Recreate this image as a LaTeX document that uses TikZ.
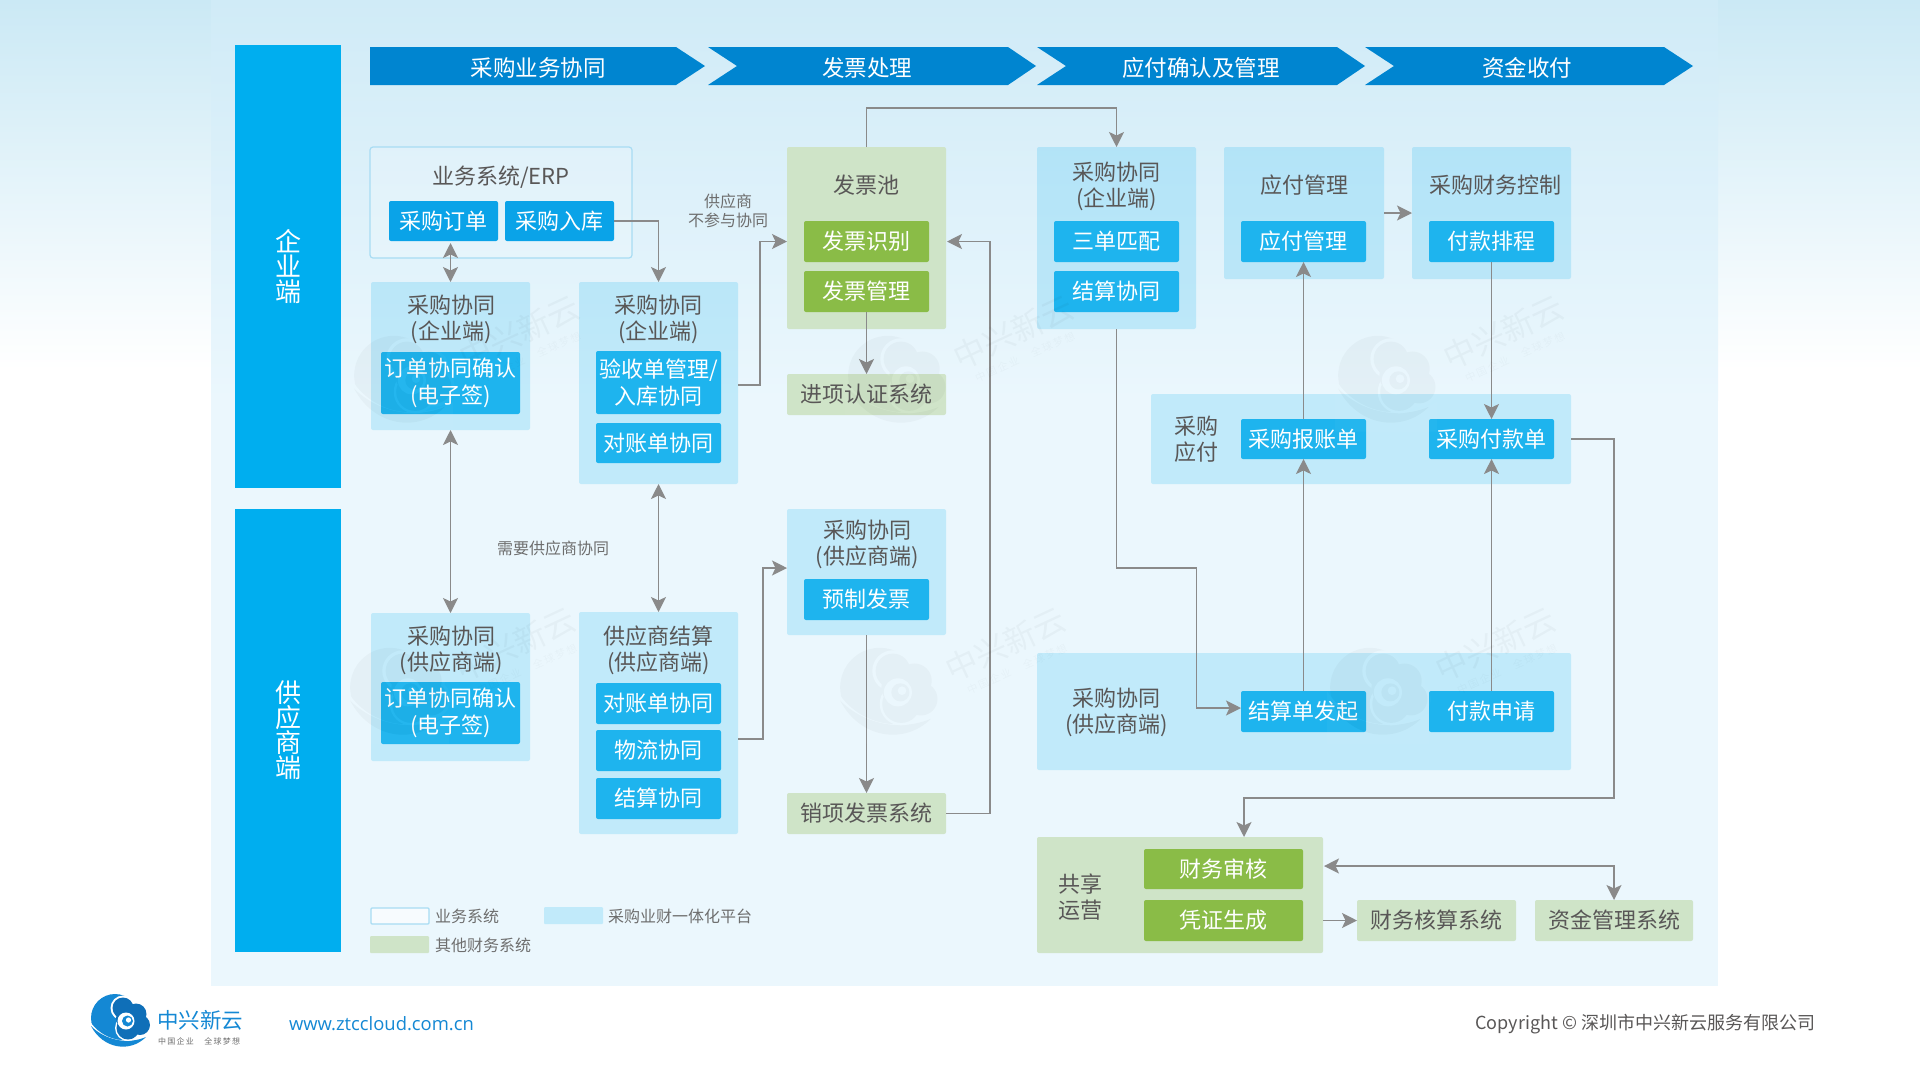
\documentclass[tikz,border=0pt]{standalone}
\usepackage{fontspec}
\usetikzlibrary{arrows.meta,calc}
\setmainfont{Noto Sans CJK SC}
\newfontfamily\spacedfont[LetterSpace=16]{Noto Sans CJK SC}
\newfontfamily\urlfont{Open Sans}
\definecolor{txt}{HTML}{595757}
\definecolor{note}{HTML}{6E6E6E}
\definecolor{band}{HTML}{0085D0}
\definecolor{side}{HTML}{00AEEF}
\definecolor{blk}{HTML}{1EB4EE}
\definecolor{blkd}{HTML}{0AA3E8}
\definecolor{grn}{HTML}{8ABC47}
\definecolor{grnp}{HTML}{CFE4C8}
\definecolor{connc}{HTML}{8A8A8A}
\definecolor{lgd}{HTML}{A8DCF3}
\definecolor{logoa}{HTML}{1488D4}
\definecolor{logob}{HTML}{0F6FB8}
\definecolor{pagetop}{HTML}{CBE9F5}
\definecolor{paneltop}{HTML}{D0EBF7}
\definecolor{panelbot}{HTML}{EBF7FD}
\newcommand{\bx}[7]{%
  \pgfmathsetmacro\cxx{(#3+#5)/2}\pgfmathsetmacro\cyy{(#4+#6)/2}%
  \pgfmathsetmacro\www{#5-#3}\pgfmathsetmacro\hhh{#6-#4}%
  \node[#1,minimum width=\www pt,minimum height=\hhh pt] (#2) at (\cxx,\cyy) {#7};}
\newcommand{\ztelogo}[5]{%
  \begin{scope}[shift={(#1,#2)},scale=#3]
    \fill[#4] (-5,-4) circle[radius=24];
    \fill[white] (-31,-2) .. controls (-18,19) and (8,24) .. (31,12) -- (31,30) -- (-31,30) -- cycle;
    \fill[#4] (-29,4) .. controls (-17,27) and (10,31) .. (26,15) .. controls (7,23) and (-15,18) .. (-29,4) -- cycle;
    \fill[white] (3,-14) circle[radius=12.5] (16,-8) circle[radius=12.5] (20,3) circle[radius=12] (8,6) circle[radius=13];
    \fill[#5] (3,-14) circle[radius=10.5] (16,-8) circle[radius=10.5] (20,3) circle[radius=10] (8,6) circle[radius=11.5] (8,-4) circle[radius=12];
    \fill[white] (6,-1) circle[radius=8.5];
    \fill[#4] (7.5,-1) circle[radius=5.5];
    \fill[white] (8.5,-2) circle[radius=2.6];
  \end{scope}}
\tikzset{
  base/.style={inner sep=0pt,outer sep=0pt,align=center},
  panelb/.style={base,fill=side,fill opacity=.175,rounded corners=2pt},
  panelg/.style={base,fill=grnp,rounded corners=2pt,text=txt,font=\fontsize{22}{26}\selectfont},
  erpbox/.style={base,draw=lgd,line width=1.2pt,fill=white,fill opacity=.18,rounded corners=3pt},
  blockb/.style={base,fill=blk,text=white,rounded corners=2pt,font=\fontsize{22}{27.5}\selectfont},
  blockd/.style={blockb,fill=blkd},
  blockg/.style={base,fill=grn,text=white,rounded corners=2pt,font=\fontsize{22}{27.5}\selectfont},
  sidebar/.style={base,fill=side,text=white,font=\fontsize{26}{25}\selectfont},
  bandtext/.style={base,text=white,font=\fontsize{22.5}{26}\selectfont},
  titletext/.style={base,text=txt,font=\fontsize{22}{26}\selectfont},
  notetext/.style={base,text=note,font=\fontsize{16}{19}\selectfont},
  legendtext/.style={base,text=note,anchor=west,font=\fontsize{16}{19}\selectfont},
  connline/.style={draw=connc,line width=1.7pt},
  arr/.style={connline,-{Stealth[length=15pt,width=15pt,inset=3.5pt]}},
  dbl/.style={connline,{Stealth[length=15pt,width=15pt,inset=3.5pt]}-{Stealth[length=15pt,width=15pt,inset=3.5pt]}},
  wmtext/.style={base,text=black,text opacity=.03,rotate=25,font=\fontsize{32}{32}\selectfont},
  wmsub/.style={base,text=black,text opacity=.025,rotate=24,font=\fontsize{10.5}{11}\spacedfont},
}
\begin{document}
\begin{tikzpicture}[x=1pt,y=-1pt]
\useasboundingbox (0,0) rectangle (1920,1080);
% backgrounds
\fill[white] (0,0) rectangle (1920,1080);
\fill[top color=pagetop,bottom color=white] (0,0) rectangle (1920,370);
\fill[top color=paneltop,bottom color=panelbot] (211,0) rectangle (1718,400);
\fill[panelbot] (211,400) rectangle (1718,986);
% sidebars
\bx{sidebar}{sideA}{235}{45}{341}{488}{企\\业\\端}
\bx{sidebar}{sideB}{235}{509}{341}{952}{供\\应\\商\\端}
% chevrons
\fill[band] (370,47) -- (676,47) -- (705,66) -- (676,85) -- (370,85) -- cycle;
\fill[band] (708,47) -- (1008,47) -- (1036,66) -- (1008,85) -- (708,85) -- (737,66) -- cycle;
\fill[band] (1037,47) -- (1337,47) -- (1365,66) -- (1337,85) -- (1037,85) -- (1066,66) -- cycle;
\fill[band] (1365,47) -- (1664,47) -- (1693,66) -- (1664,85) -- (1365,85) -- (1394,66) -- cycle;
\node[bandtext] (bandA) at (538,68) {采购业务协同};
\node[bandtext] (bandB) at (867,68) {发票处理};
\node[bandtext] (bandC) at (1201,68) {应付确认及管理};
\node[bandtext] (bandD) at (1527,68) {资金收付};
% ERP
\bx{erpbox}{erp}{370}{147}{632}{258}{}
\node[titletext] (erpT) at (501,177.5) {业务系统/ERP};
\bx{blockd}{ord}{389}{201}{498}{241}{采购订单}
\bx{blockd}{inb}{505}{201}{614}{241}{采购入库}
% left enterprise panels
\bx{panelb}{pA}{371}{282}{530}{430}{}
\node[titletext] (pAT) at (451,319.5) {采购协同\\(企业端)};
\bx{blockb}{pAb}{381}{352}{520}{414}{订单协同确认\\(电子签)}
\bx{panelb}{pB}{579}{282}{738}{484}{}
\node[titletext] (pBT) at (658.5,319.5) {采购协同\\(企业端)};
\bx{blockb}{pBa}{596}{351}{721}{414}{验收单管理/\\入库协同}
\bx{blockb}{pBb}{596}{423}{721}{463}{对账单协同}
% invoice pool
\bx{panelg}{pool}{787}{147}{946}{329}{}
\node[titletext] (poolT) at (866.5,185) {发票池};
\bx{blockg}{rec}{804}{221}{929}{262}{发票识别}
\bx{blockg}{mgt}{804}{271}{929}{312}{发票管理}
\bx{panelg}{inv}{787}{374}{946}{415}{进项认证系统}
% enterprise right
\bx{panelb}{ent}{1037}{147}{1196}{329}{}
\node[titletext] (entT) at (1116.5,186.5) {采购协同\\(企业端)};
\bx{blockb}{match}{1054}{221}{1179}{262}{三单匹配}
\bx{blockb}{sett}{1054}{271}{1179}{312}{结算协同}
\bx{panelb}{apm}{1224}{147}{1384}{279}{}
\node[titletext] (apmT) at (1304,185) {应付管理};
\bx{blockb}{apb}{1241}{221}{1366}{262}{应付管理}
\bx{panelb}{fin}{1412}{147}{1571}{279}{}
\node[titletext] (finT) at (1495,185) {采购财务控制};
\bx{blockb}{sch}{1429}{221}{1554}{262}{付款排程}
\bx{panelb}{ap}{1151}{394}{1571}{484}{}
\node[titletext] (apT) at (1196,439.5) {采购\\应付};
\bx{blockb}{exp}{1241}{419}{1366}{459}{采购报账单}
\bx{blockb}{pay}{1429}{419}{1554}{459}{采购付款单}
% supplier panels
\bx{panelb}{sA}{371}{613}{530}{761}{}
\node[titletext] (sAT) at (451,650.5) {采购协同\\(供应商端)};
\bx{blockb}{sAb}{381}{682}{520}{744}{订单协同确认\\(电子签)}
\bx{panelb}{sB}{579}{612}{738}{834}{}
\node[titletext] (sBT) at (658.5,650) {供应商结算\\(供应商端)};
\bx{blockb}{sBa}{596}{683}{721}{724}{对账单协同}
\bx{blockb}{sBb}{596}{730}{721}{771}{物流协同}
\bx{blockb}{sBc}{596}{778}{721}{819}{结算协同}
\bx{panelb}{sinv}{787}{509}{946}{635}{}
\node[titletext] (sinvT) at (867,544) {采购协同\\(供应商端)};
\bx{blockb}{pre}{804}{579}{929}{620}{预制发票}
\bx{panelg}{sale}{787}{793}{946}{834}{销项发票系统}
\bx{panelb}{sup}{1037}{653}{1571}{770}{}
\node[titletext] (supT) at (1116.5,712.5) {采购协同\\(供应商端)};
\bx{blockb}{st}{1241}{691}{1366}{732}{结算单发起}
\bx{blockb}{pa}{1429}{691}{1554}{732}{付款申请}
% shared
\bx{panelg}{share}{1037}{837}{1323}{953}{}
\node[titletext] (shareT) at (1080.5,897.5) {共享\\运营};
\bx{blockg}{aud}{1144}{849}{1303}{889}{财务审核}
\bx{blockg}{vou}{1144}{900}{1303}{941}{凭证生成}
\bx{panelg}{acc}{1357}{900}{1516}{941}{财务核算系统}
\bx{panelg}{fund}{1535}{900}{1693}{941}{资金管理系统}
% connectors
\draw[dbl] ([yshift=-2pt]pA.north |- ord.south) -- (pA.north);
\draw[arr] (inb.east) -| (pB.north);
\draw[arr] ([yshift=-2pt]pB.east) -- ++(22,0) |- (pool.west |- rec.center);
\draw[arr] (pool.north) -- ++(0,-39) -| (ent.north);
\draw[arr] (mgt.south) -- (inv.north);
\draw[arr] (sale.east) -- ++(44,0) |- ([xshift=1pt]pool.east |- rec.center);
\draw[dbl] (pA.south) -- (sA.north);
\draw[dbl] (pB.south) -- (sB.north);
\draw[arr] ([yshift=-16pt]sB.east) -- ++(25,0) |- ([yshift=4pt]sinv.west);
\draw[arr] (sinv.south) -- (sale.north);
\draw[arr] (ent.south) -- ++(0,239) -- ++(80,0) |- ([yshift=3.5pt]st.west);
\draw[arr] (st.north) -- (exp.south);
\draw[arr] (exp.north) -- (apb.south);
\draw[arr] (pa.north) -- (pay.south);
\draw[arr] (sch.south) -- (pay.north);
\draw[arr] (apm.east) -- (fin.west);
\draw[arr] (ap.east) -- ++(43,0) -- ++(0,359) -| ([xshift=64pt]share.north);
\draw[dbl] ([yshift=29pt,xshift=1pt]share.east) -| (fund.north);
\draw[arr] (share.east |- acc.west) -- (acc.west);
% notes
\node[notetext] (noteA) at (728,211) {供应商\\不参与协同};
\node[notetext] (noteB) at (553,548) {需要供应商协同};
% legend
\bx{base,draw=lgd,line width=1.2pt,fill=white,fill opacity=.6,rounded corners=1pt}{lgA}{371}{908}{429}{924}{}
\node[legendtext] (lgAT) at (435,916) {业务系统};
\bx{panelb,rounded corners=1pt}{lgB}{544}{907}{603}{924}{}
\node[legendtext] (lgBT) at (608,916) {采购业财一体化平台};
\bx{base,fill=grnp,rounded corners=1pt}{lgC}{370}{936}{429}{953}{}
\node[legendtext] (lgCT) at (435,945) {其他财务系统};
% watermarks
\foreach \wx/\wy [count=\wi] in {404/380,898/380,1388/380,400/692,890/692,1380/692}{
  \begin{scope}[transparency group,opacity=.028]
    \pgfmathsetmacro\lx{\wx-2}\pgfmathsetmacro\ly{\wy+2}
    \ztelogo{\lx}{\ly}{1.65}{black}{black}
  \end{scope}
  \node[wmtext] (wmT\wi) at ($(\wx,\wy)+(115,-48)$) {中兴新云};
  \node[wmsub] (wmS\wi) at ($(\wx,\wy)+(127,-23)$) {中国企业　全球梦想};
}
% footer
\ztelogo{120}{1022}{1}{logoa}{logob}
\node[base,anchor=west,text=logoa,font=\fontsize{21.5}{22}\selectfont] (brand) at (157,1020) {中兴新云};
\node[base,anchor=west,text=note,font=\fontsize{8}{10}\spacedfont] (slogan) at (158,1041) {中国企业　全球梦想};
\node[base,anchor=west,text=logoa,font=\fontsize{18.4}{22}\urlfont] (url) at (289,1024) {www.ztccloud.com.cn};
\node[base,anchor=east,text=txt,font=\fontsize{18}{22}\selectfont] (copy) at (1815,1024) {Copyright © 深圳市中兴新云服务有限公司};
\end{tikzpicture}
\end{document}
